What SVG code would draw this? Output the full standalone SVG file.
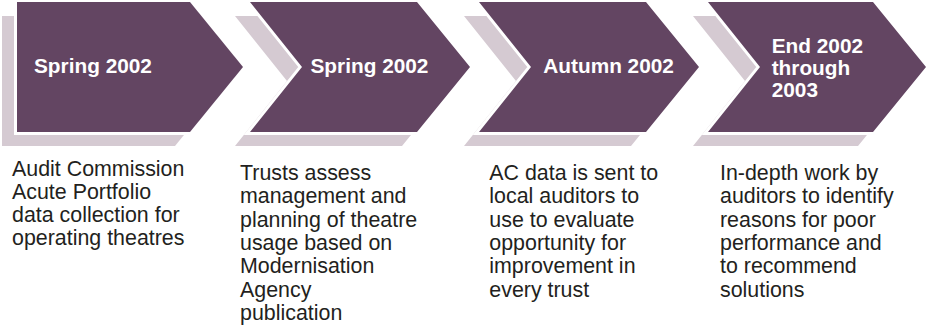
<svg xmlns="http://www.w3.org/2000/svg" width="926" height="326" viewBox="0 0 926 326">
<style>
.shadow{fill:#d5cad2;}
.chev{fill:#634562;stroke:#ffffff;stroke-width:6;paint-order:stroke;stroke-linejoin:miter;}
.head{font-family:"Liberation Sans",Arial,sans-serif;font-weight:bold;font-size:20.8px;fill:#ffffff;}
.body{font-family:"Liberation Sans",Arial,sans-serif;font-size:21.4px;fill:#231f20;}
</style>
<rect width="926" height="326" fill="#ffffff"/>
<g id="connectors"></g>
<g id="node1">
<polygon class="shadow" points="2,16 175,16 228,81 175,146 2,146"/>
<polygon class="chev" points="17,2 190,2 243,67 190,132 17,132"/>
<text class="head" x="34" y="72.5">Spring 2002</text>
<text class="body"><tspan x="12" y="176">Audit Commission</tspan><tspan x="12" y="199">Acute Portfolio</tspan><tspan x="12" y="222">data collection for</tspan><tspan x="12" y="245">operating theatres</tspan></text>
</g>
<g id="node2">
<polygon class="shadow" points="235,16 402,16 455,81 402,146 235,146 287,81"/>
<polygon class="chev" points="250,2 417,2 470,67 417,132 250,132 302,67"/>
<text class="head" x="310.5" y="73">Spring 2002</text>
<text class="body"><tspan x="240" y="180">Trusts assess</tspan><tspan x="240" y="203.3">management and</tspan><tspan x="240" y="226.6">planning of theatre</tspan><tspan x="240" y="249.9">usage based on</tspan><tspan x="240" y="273.2">Modernisation</tspan><tspan x="240" y="296.5">Agency</tspan><tspan x="240" y="319.8">publication</tspan></text>
</g>
<g id="node3">
<polygon class="shadow" points="464,16 631,16 684,81 631,146 464,146 516,81"/>
<polygon class="chev" points="479,2 646,2 699,67 646,132 479,132 531,67"/>
<text class="head" x="543.3" y="73">Autumn 2002</text>
<text class="body"><tspan x="489.3" y="180">AC data is sent to</tspan><tspan x="489.3" y="203.3">local auditors to</tspan><tspan x="489.3" y="226.6">use to evaluate</tspan><tspan x="489.3" y="249.9">opportunity for</tspan><tspan x="489.3" y="273.2">improvement in</tspan><tspan x="489.3" y="296.5">every trust</tspan></text>
</g>
<g id="node4">
<polygon class="shadow" points="693,16 858,16 911,81 858,146 693,146 745,81"/>
<polygon class="chev" points="708,2 873,2 926,67 873,132 708,132 760,67"/>
<text class="head"><tspan x="771.7" y="53.3">End 2002</tspan><tspan x="771.7" y="75">through</tspan><tspan x="771.7" y="96.7">2003</tspan></text>
<text class="body"><tspan x="720" y="180">In-depth work by</tspan><tspan x="720" y="203.3">auditors to identify</tspan><tspan x="720" y="226.6">reasons for poor</tspan><tspan x="720" y="249.9">performance and</tspan><tspan x="720" y="273.2">to recommend</tspan><tspan x="720" y="296.5">solutions</tspan></text>
</g>
</svg>
